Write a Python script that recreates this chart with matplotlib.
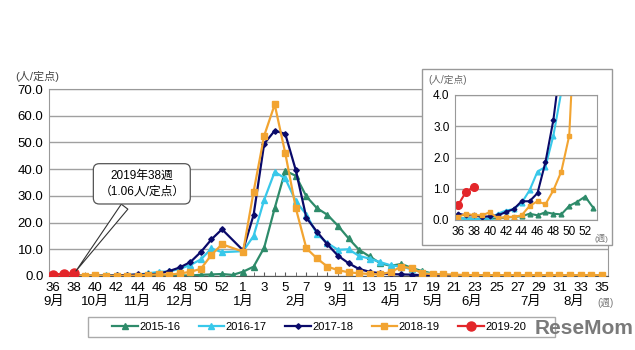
import numpy as np
import matplotlib
matplotlib.use('Agg')
import matplotlib.pyplot as plt
from matplotlib.patches import Rectangle

plt.rcParams['font.family'] = ['Liberation Sans', 'Noto Sans CJK JP', 'DejaVu Sans']

# weeks 36..53 then 1..35 (week 53 only exists in 2015-16)
weeks = list(range(36, 54)) + list(range(1, 36))

s2015 = [0.05, 0.05, 0.05, 0.03, 0.05, 0.05, 0.08, 0.1, 0.12, 0.2, 0.15, 0.25, 0.2, 0.18, 0.45, 0.58, 0.75, 0.4,
         1.6, 3.5, 10.6, 25.4, 39.4, 37.5, 29.8, 25.4, 22.9, 18.8, 14.1, 9.8, 7.3, 4.8, 3.8, 4.5, 3.0, 1.8, 0.9,
         0.5, 0.3, 0.2, 0.15, 0.1, 0.1, 0.1, 0.05, 0.05, 0.05, 0.05, 0.05, 0.05, 0.05, 0.05, 0.05]
s2016 = [0.05, 0.05, 0.03, 0.03, 0.05, 0.2, 0.3, 0.35, 0.55, 0.95, 1.55, 1.7, 2.7, 4.1, 6.2, 10.3, 8.9, None,
         9.3, 15.0, 28.5, 39.0, 36.5, 28.0, 23.0, 15.8, 12.3, 9.8, 10.0, 7.5, 6.5, 5.2, 4.0, 3.5, 2.5, 1.4, 0.7,
         0.4, 0.3, 0.2, 0.1, 0.1, 0.1, 0.1, 0.1, 0.05, 0.05, 0.05, 0.05, 0.05, 0.05, 0.05, 0.05]
s2017 = [0.2, 0.15, 0.15, 0.1, 0.12, 0.15, 0.25, 0.35, 0.6, 0.6, 0.86, 1.85, 3.2, 5.2, 9.0, 13.7, 17.5, None,
         9.6, 22.9, 49.5, 54.4, 53.2, 39.6, 21.8, 16.6, 11.8, 7.6, 4.8, 2.6, 1.6, 1.0, 0.7, 0.6, 0.5, 0.3, 0.2,
         0.15, 0.1, 0.1, 0.1, 0.1, 0.1, 0.05, 0.05, 0.05, 0.05, 0.05, 0.05, 0.05, 0.05, 0.05, 0.05]
s2018 = [0.1, 0.2, 0.15, 0.15, 0.25, 0.05, 0.1, 0.1, 0.15, 0.45, 0.6, 0.5, 0.95, 1.55, 2.7, 7.9, 11.9, None,
         9.1, 31.6, 52.5, 64.2, 46.0, 25.4, 10.4, 6.6, 3.5, 2.2, 1.4, 1.0, 0.75, 0.6, 1.5, 3.5, 2.9, 1.0, 0.7,
         0.6, 0.5, 0.4, 0.3, 0.3, 0.3, 0.3, 0.3, 0.3, 0.3, 0.3, 0.3, 0.3, 0.3, 0.3, 0.3]
s2019 = [0.48, 0.91, 1.06]

month_labels = ['9月', '10月', '11月', '12月', '1月', '2月', '3月', '4月', '5月', '6月', '7月', '8月']
month_pos = [0, 4, 8, 12, 18, 23, 27, 32, 36, 39.7, 45.3, 49.3]

series = [
    ('2015-16', s2015, '#2e8b6a', '^', 4),
    ('2016-17', s2016, '#38c8ea', '^', 4),
    ('2017-18', s2017, '#0a0a6a', 'D', 2.8),
    ('2018-19', s2018, '#f2a431', 's', 3.8),
    ('2019-20', s2019, '#e3262a', 'o', 6.5),
]


def xy(vals, offset=0):
    x = [i + offset for i, v in enumerate(vals) if v is not None]
    y = [v for v in vals if v is not None]
    return x, y


fig = plt.figure(figsize=(6.35, 3.5), dpi=100)
ax = fig.add_axes([49 / 635, 1 - 276 / 350, 559 / 635, 187 / 350])

handles = []
for name, vals, c, m, ms in series:
    x, y = xy(vals)
    h, = ax.plot(x, y, color=c, marker=m, markersize=ms, lw=1.6, label=name, zorder=3)
    handles.append(h)

ax.set_xlim(-0.4, 52.6)
ax.set_ylim(0, 70)
ax.set_yticks(np.arange(0, 71, 10))
ax.set_yticklabels(['{:.1f}'.format(v) for v in np.arange(0, 71, 10)], fontsize=9.5)
ax.yaxis.grid(True, color='#a0a0a0', lw=1)
ax.set_axisbelow(True)
ax.set_xticks(range(0, 53, 2))
ax.set_xticklabels([str(weeks[i]) for i in range(0, 53, 2)], fontsize=9.5)
ax.set_xticks(range(53), minor=True)
ax.tick_params(axis='x', which='both', direction='in', length=3, color='#555555', pad=4)
ax.tick_params(axis='y', length=0, pad=4)
for sp in ax.spines.values():
    sp.set_color('#999999')
ax.spines['bottom'].set_color('#555555')

trans = ax.get_xaxis_transform()
for p, lab in zip(month_pos, month_labels):
    ax.text(p, -0.14, lab, transform=trans, ha='center', va='center', fontsize=9.5)
ax.text(52.4, -0.145, '(週)', transform=trans, ha='center', va='center', fontsize=7, color='#777777')
fig.text(15 / 635, 1 - 76 / 350, '(人/定点)', fontsize=8, color='#444444', va='center')

ax.annotate('2019年38週\n（1.06人/定点）', xy=(2, 1.06), xytext=(8.4, 34.5),
            ha='center', va='center', fontsize=8.5, linespacing=1.5,
            bbox=dict(boxstyle='round,pad=0.5', fc='white', ec='#555555', lw=0.9),
            arrowprops=dict(arrowstyle='wedge,tail_width=0.7', fc='white', ec='#333333', lw=0.8),
            zorder=5)

# inset
fig.add_artist(Rectangle((422 / 635, 1 - 245 / 350), 190 / 635, 176 / 350, transform=fig.transFigure,
                         fc='white', ec='#999999', lw=1, zorder=4))
axi = fig.add_axes([455 / 635, 1 - 220 / 350, 142 / 635, 125 / 350], zorder=5)
for name, vals, c, m, ms in series:
    x, y = xy(vals[:18], offset=36)
    axi.plot(x, y, color=c, marker=m, markersize=ms * 0.85, lw=1.5)
axi.set_xlim(35.6, 53.5)
axi.set_ylim(0, 4)
axi.set_yticks(np.arange(0, 4.1, 1))
axi.set_yticklabels(['{:.1f}'.format(v) for v in np.arange(0, 4.1, 1)], fontsize=8.5)
axi.set_xticks(range(36, 53, 2))
axi.set_xticklabels([str(w) for w in range(36, 53, 2)], fontsize=8.5)
axi.tick_params(length=0, pad=4)
axi.yaxis.grid(True, color='#a0a0a0', lw=1)
axi.set_axisbelow(True)
for sp in axi.spines.values():
    sp.set_color('#999999')
fig.text(428 / 635, 1 - 80 / 350, '(人/定点)', fontsize=7, color='#666666', va='center', zorder=6)
fig.text(601 / 635, 1 - 238 / 350, '(週)', fontsize=6, color='#777777', ha='center', va='center', zorder=6)

# legend with a separate frame
fig.add_artist(Rectangle((88 / 635, 1 - 337 / 350), 467 / 635, 20 / 350, transform=fig.transFigure,
                         fc='white', ec='#aaaaaa', lw=1))
fig.legend(handles=handles, loc='center left', ncol=5,
           bbox_to_anchor=(112 / 635, 1 - 327 / 350),
           fontsize=8, frameon=False, borderpad=0, borderaxespad=0,
           handlelength=2.3, handletextpad=0.15, columnspacing=1.65)

fig.text(633 / 635, 1 - 328 / 350, 'ReseMom', fontsize=15, fontweight='bold', color='#7a7a7a',
         ha='right', va='center')

fig.savefig('out.png', dpi=100)
